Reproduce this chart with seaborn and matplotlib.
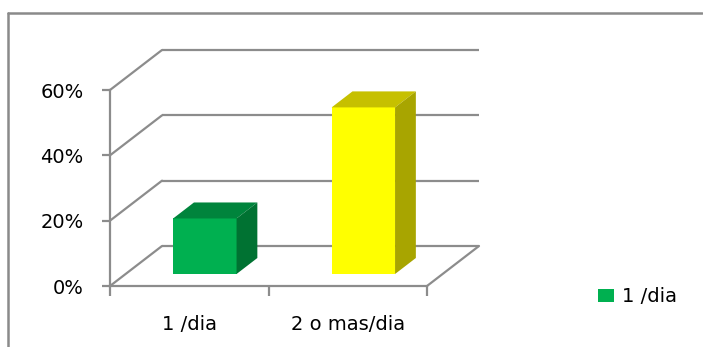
import matplotlib
matplotlib.use("Agg")
import matplotlib.pyplot as plt
import seaborn as sns
import pandas as pd
from matplotlib.patches import Polygon, Patch
from matplotlib.lines import Line2D
from matplotlib.transforms import Affine2D
from matplotlib.ticker import PercentFormatter

# --- data -------------------------------------------------------------
categories = ["1 /dia", "2 o mas/dia"]
values = [0.17, 0.51]
y_ticks = [0.0, 0.2, 0.4, 0.6]
legend_label = "1 /dia"

# --- colours ----------------------------------------------------------
front_colors = ["#00B050", "#FFFF00"]
top_colors = ["#00843C", "#C6C000"]
side_colors = ["#007232", "#A8A500"]
grid_color = "#8C8C8C"
frame_color = "#8A8A8A"

sns.set_style("white")
plt.rcParams["font.family"] = ["DejaVu Sans"]
plt.rcParams["font.size"] = 14
plt.rcParams["text.color"] = "black"

W, H = 703, 347
fig = plt.figure(figsize=(W / 100, H / 100), dpi=100)

# plot area (front plane of the 3-D box), in pixels
ax_l, ax_r, ax_b, ax_t = 110, 427, 286, 90
ax = fig.add_axes([ax_l / W, 1 - ax_b / H, (ax_r - ax_l) / W, (ax_b - ax_t) / H])

df = pd.DataFrame({"frecuencia": categories, "porcentaje": values})
sns.barplot(
    data=df, x="frecuencia", y="porcentaje", hue="frecuencia",
    palette=dict(zip(categories, front_colors)), width=0.40,
    saturation=1, legend=False, ax=ax, zorder=3,
)
ax.set_xlim(-0.5, 1.5)
ax.set_ylim(0, 0.6)
ax.set_xlabel("")
ax.set_ylabel("")

# depth of the box expressed in data units
px_x = (ax_r - ax_l) / 2.0
px_y = (ax_b - ax_t) / 0.6
DX, DY = 52 / px_x, 40 / px_y
front, back = 0.3, 0.7
d = back - front
LW = 1.6

# back wall, side wall and floor
for t in y_ticks:
    ax.plot([-0.5 + DX, 1.5 + DX], [t + DY, t + DY], color=grid_color,
            lw=LW, clip_on=False, zorder=1, solid_capstyle="butt")
    ax.plot([-0.5, -0.5 + DX], [t, t + DY], color=grid_color,
            lw=LW, clip_on=False, zorder=1)
ax.plot([1.5, 1.5 + DX], [0, DY], color=grid_color, lw=LW,
        clip_on=False, zorder=1)

# give the bars depth: shift the front faces and add top and side faces
for patch, top_c, side_c in zip(ax.patches, top_colors, side_colors):
    x0, w, h = patch.get_x(), patch.get_width(), patch.get_height()
    shift = Affine2D().translate(front * DX, front * DY) + ax.transData
    patch.set_transform(shift)
    patch.set_linewidth(0)
    patch.set_clip_on(False)
    top = Polygon([(x0, h), (x0 + w, h), (x0 + w + d * DX, h + d * DY),
                   (x0 + d * DX, h + d * DY)], closed=True, facecolor=top_c,
                  lw=0, transform=shift, clip_on=False, zorder=3)
    side = Polygon([(x0 + w, 0), (x0 + w + d * DX, d * DY),
                    (x0 + w + d * DX, h + d * DY), (x0 + w, h)], closed=True,
                   facecolor=side_c, lw=0, transform=shift, clip_on=False,
                   zorder=3)
    ax.add_patch(top)
    ax.add_patch(side)

# axes styling
for s in ("top", "right"):
    ax.spines[s].set_visible(False)
for s in ("left", "bottom"):
    ax.spines[s].set_color(grid_color)
    ax.spines[s].set_linewidth(LW)
    ax.spines[s].set_zorder(2)

ax.set_yticks(y_ticks)
ax.yaxis.set_major_formatter(PercentFormatter(1.0, decimals=0))
ax.tick_params(axis="y", left=True, direction="out", length=6, width=LW,
               color=grid_color, pad=13, labelsize=14, labelcolor="black")
ax.set_xticks([-0.5, 0.5, 1.5], minor=True)
ax.tick_params(axis="x", which="major", bottom=True, length=0, pad=21,
               labelsize=14, labelcolor="black")
ax.tick_params(axis="x", which="minor", bottom=True, direction="out",
               length=7, width=LW, color=grid_color)
ax.grid(False)

# legend
fig.legend(
    handles=[Patch(facecolor=front_colors[0], edgecolor="none")],
    labels=[legend_label], loc="center left",
    bbox_to_anchor=(598 / W, 1 - 297 / H), frameon=False, fontsize=14,
    handlelength=0.82, handleheight=0.67, handletextpad=0.4,
    borderpad=0, borderaxespad=0, labelcolor="black",
)

# chart area frame
fig.add_artist(Line2D([8 / W, 8 / W], [0, 1 - 13 / H], color=frame_color,
                      lw=1.8, transform=fig.transFigure))
fig.add_artist(Line2D([8 / W, 702 / W], [1 - 13 / H, 1 - 13 / H],
                      color=frame_color, lw=1.8, transform=fig.transFigure))

fig.savefig("out.png", dpi=100)
